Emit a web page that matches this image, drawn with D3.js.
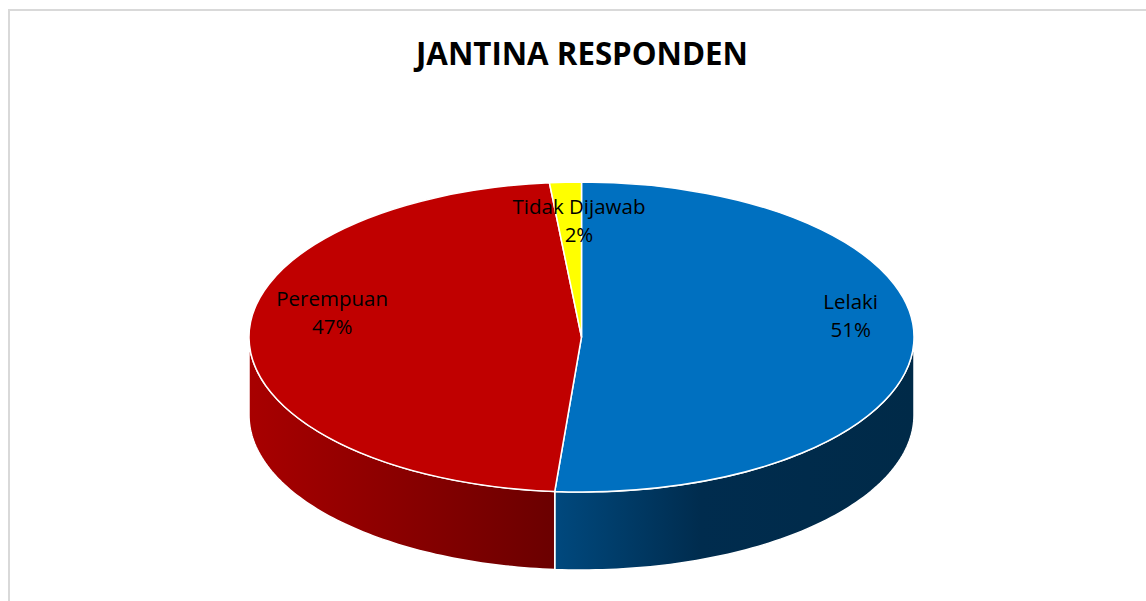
<!DOCTYPE html>
<html>
<head>
<meta charset="utf-8">
<script src="https://cdn.jsdelivr.net/npm/d3@7"></script>
<style>
  body { margin: 0; background: #fff; }
  svg { display: block; }
</style>
</head>
<body>
<svg id="chart" width="1146" height="601"></svg>
<script>
const categories = ["Lelaki", "Perempuan", "Tidak Dijawab"];
const counts = [200, 184, 6];
const title = "JANTINA RESPONDEN";

const topColors = ["#0070C0", "#C00000", "#FFFF00"];
// side shading, left -> right across the pie
const sideStops = [
  [["0%", "#00508c"], ["45%", "#004a80"], ["68%", "#002c4e"], ["100%", "#002a48"]],
  [["0%", "#a80000"], ["45%", "#6c0000"], ["100%", "#600000"]],
  [["0%", "#c0c000"], ["100%", "#808000"]]
];

const W = 1146, H = 601;
const cx = 581.5, cy = 337, rx = 332.5, ry = 155, depth = 78;

const svg = d3.select("#chart");

svg.append("rect")
  .attr("x", 9).attr("y", 10)
  .attr("width", W + 10).attr("height", H + 10)
  .attr("fill", "#fff")
  .attr("stroke", "#d9d9d9")
  .attr("stroke-width", 2);

svg.append("text")
  .attr("x", 582).attr("y", 65)
  .attr("text-anchor", "middle")
  .attr("font-family", "'Open Sans', sans-serif")
  .attr("font-weight", 700)
  .attr("font-size", 32)
  .attr("textLength", 332)
  .attr("lengthAdjust", "spacingAndGlyphs")
  .text(title);

const data = categories.map((c, i) => ({ name: c, value: counts[i], i }));
const total = d3.sum(counts);
const pct = d3.format(".0%");

const pie = d3.pie().sort(null).value(d => d.value);
const arcs = pie(data);

// angle measured clockwise from top
const px = a => cx + rx * Math.sin(a);
const py = a => cy - ry * Math.cos(a);

const defs = svg.append("defs");
sideStops.forEach((stops, i) => {
  const g = defs.append("linearGradient")
    .attr("id", "side" + i)
    .attr("gradientUnits", "userSpaceOnUse")
    .attr("x1", cx - rx).attr("x2", cx + rx)
    .attr("y1", 0).attr("y2", 0);
  stops.forEach(s => g.append("stop").attr("offset", s[0]).attr("stop-color", s[1]));
});

const line = d3.line();

// side walls (front half only)
const sides = svg.append("g");
arcs.forEach(a => {
  const a0 = Math.max(a.startAngle, Math.PI / 2);
  const a1 = Math.min(a.endAngle, Math.PI * 1.5);
  if (a1 <= a0) return;
  const n = 80;
  const angs = d3.range(n + 1).map(k => a0 + (a1 - a0) * k / n);
  const topPts = angs.map(t => [px(t), py(t)]);
  const botPts = angs.slice().reverse().map(t => [px(t), py(t) + depth]);
  sides.append("path")
    .attr("d", line(topPts.concat(botPts)) + "Z")
    .attr("fill", `url(#side${a.data.i})`)
    .attr("stroke", "#fff")
    .attr("stroke-width", 1.5)
    .attr("stroke-linejoin", "round");
});

// top faces
const tops = svg.append("g");
arcs.forEach(a => {
  const large = (a.endAngle - a.startAngle) > Math.PI ? 1 : 0;
  const d = `M${cx},${cy}L${px(a.startAngle)},${py(a.startAngle)}` +
    `A${rx},${ry} 0 ${large} 1 ${px(a.endAngle)},${py(a.endAngle)}Z`;
  tops.append("path")
    .attr("d", d)
    .attr("fill", topColors[a.data.i])
    .attr("stroke", "#fff")
    .attr("stroke-width", 1.5)
    .attr("stroke-linejoin", "round");
});

// labels (placed a bit up and in, like the 3D layout)
const labelRx = 0.78, labelRy = 0.59;
const labels = svg.append("g")
  .attr("font-family", "'Open Sans', sans-serif")
  .attr("font-size", 20.5)
  .attr("fill", "#000")
  .attr("text-anchor", "middle");
arcs.forEach(a => {
  const m = (a.startAngle + a.endAngle) / 2;
  const x = cx + 10 + rx * labelRx * Math.sin(m);
  const y = cy - 31 - ry * labelRy * Math.cos(m);
  const t = labels.append("text").attr("x", x).attr("y", y);
  t.append("tspan").attr("x", x).attr("dy", "-0.05em").text(a.data.name);
  t.append("tspan").attr("x", x).attr("dy", "1.4em").text(pct(a.data.value / total));
});
</script>
</body>
</html>
